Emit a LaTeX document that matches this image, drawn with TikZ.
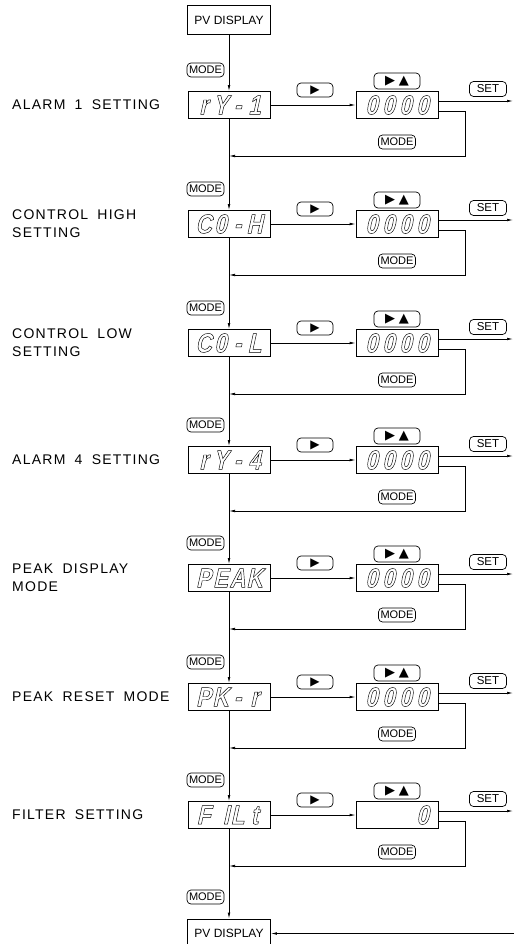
\documentclass[tikz,border=0pt]{standalone}
\usepackage{fontspec}
\setmainfont{Liberation Sans}
\newfontfamily\lblfont{Liberation Sans}[LetterSpace=9,WordSpace=1.8]
\newfontfamily\segfont{Liberation Sans}[FakeStretch=0.82,FakeSlant=0.22]
\newfontfamily\symfont{DejaVu Sans}
\usetikzlibrary{arrows.meta}
\newcommand\segcell[1]{\makebox[17pt][c]{#1}}
\newcommand\segon{\special{pdf:literal direct 1 Tr 0.45 w}}
\newcommand\segoff{\special{pdf:literal direct 0 Tr}}
\newcommand\segtext[1]{{\segfont\bfseries\fontsize{27}{27}\selectfont\segon#1\segoff}}
\tikzset{
  ln/.style={line width=0.7pt},
  arr/.style={ln,-{Latex[length=6pt,width=2.6pt]}},
  pvbox/.style={draw,ln,minimum width=83pt,minimum height=29pt,inner sep=0pt,font=\fontsize{12}{12}\selectfont},
  disp/.style={draw,ln,minimum width=82pt,minimum height=27pt,inner sep=0pt},
  keybtn/.style={draw,ln,rounded corners=4pt,inner sep=0pt},
  modebtn/.style={keybtn,minimum width=37pt,minimum height=14pt,font=\fontsize{11}{11}\selectfont},
  setbtn/.style={keybtn,minimum width=37pt,minimum height=15pt,font=\fontsize{11.5}{11.5}\selectfont},
  rbtn/.style={keybtn,minimum width=36pt,minimum height=14pt,font=\symfont\fontsize{12}{12}\selectfont},
  rubtn/.style={keybtn,minimum width=46pt,minimum height=16pt,font=\symfont\fontsize{13}{13}\selectfont},
  lbl/.style={anchor=west,align=left,inner sep=0pt,font=\lblfont\fontsize{14}{18}\selectfont}
}
\newcommand\steprow[5]{%
  \node[lbl] (l#1) at (12,#2) {#3};
  \node[disp] (d#1) at (229,#2) {\segtext{#4}};
  \node[modebtn] (m#1) at (205.5,#2-35) {MODE};
  \node[rbtn] (r#1) at (315,#2-15) {▶};
  \node[disp] (v#1) at (397,#2) {\segtext{#5}};
  \node[rubtn] (u#1) at (397,#2-24) {▶\hspace{4pt}▲};
  \node[setbtn] (s#1) at (488,#2-16) {SET};
  \node[modebtn] (b#1) at (397,#2+37) {MODE};
  \coordinate (o#1) at (513,#2-4);
  \coordinate (j#1) at (229,#2+51);
  \draw[arr] (d#1) -- (v#1);
  \draw[arr] ([yshift=4pt]v#1.east) -- (o#1);
  \draw[arr] ([yshift=-6pt]v#1.east) -- ++(27,0) |- (j#1);
}
\newcommand\zeros{\segcell{0}\segcell{0}\segcell{0}\segcell{0}}
\begin{document}
\begin{tikzpicture}[x=1pt,y=-1pt]
\useasboundingbox (0,0) rectangle (514,944);
\node[pvbox] (pvt) at (229,20) {PV DISPLAY};
\steprow{1}{105}{ALARM 1 SETTING}{\segcell{r}\segcell{Y}\segcell{-}\segcell{1}}{\zeros}
\steprow{2}{224}{CONTROL HIGH\\SETTING}{\segcell{C}\segcell{0}\segcell{-}\segcell{H}}{\zeros}
\steprow{3}{343}{CONTROL LOW\\SETTING}{\segcell{C}\segcell{0}\segcell{-}\segcell{L}}{\zeros}
\steprow{4}{460}{ALARM 4 SETTING}{\segcell{r}\segcell{Y}\segcell{-}\segcell{4}}{\zeros}
\steprow{5}{578}{PEAK DISPLAY\\MODE}{\segcell{P}\segcell{E}\segcell{A}\segcell{K}}{\zeros}
\steprow{6}{697}{PEAK RESET MODE}{\segcell{P}\segcell{K}\segcell{-}\segcell{r}}{\zeros}
\steprow{7}{815}{FILTER SETTING}{\segcell{F}\segcell{\hfill I}\segcell{L}\segcell{t}}{\segcell{}\segcell{}\segcell{}\segcell{0}}
\node[modebtn] (m8) at (205.5,897) {MODE};
\node[pvbox] (pvb) at (229,933.5) {PV DISPLAY};
\coordinate (rin) at (514,933.5);
\draw[arr] (pvt) -- (d1);
\draw[arr] (d1) -- (d2);
\draw[arr] (d2) -- (d3);
\draw[arr] (d3) -- (d4);
\draw[arr] (d4) -- (d5);
\draw[arr] (d5) -- (d6);
\draw[arr] (d6) -- (d7);
\draw[arr] (d7) -- (pvb);
\draw[arr] (rin) -- (pvb);
\end{tikzpicture}
\end{document}
